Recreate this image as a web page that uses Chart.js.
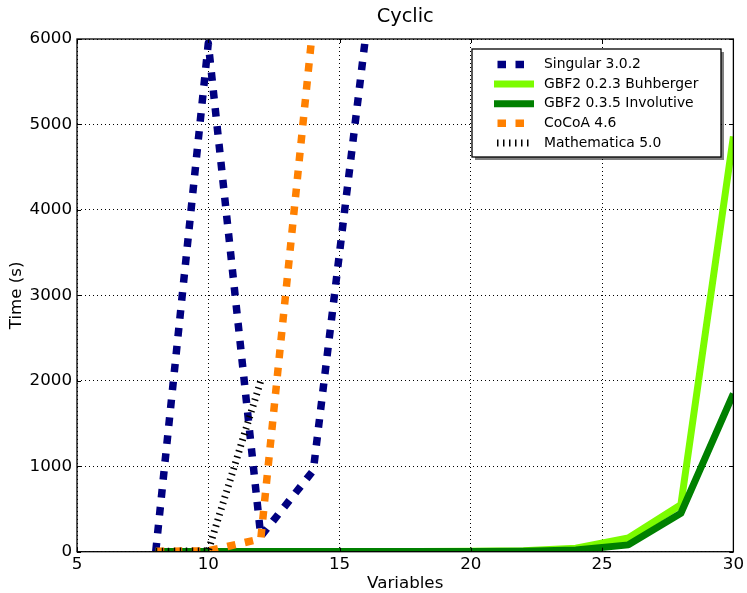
<!DOCTYPE html>
<html>
<head>
<meta charset="utf-8">
<script src="https://cdn.jsdelivr.net/npm/chart.js@4.4.1/dist/chart.umd.min.js"></script>
<style>
  body { margin: 0; background: #fff; }
  canvas { display: block; }
</style>
</head>
<body>
<canvas id="myChart" width="747" height="593"></canvas>
<script>
// datos (tiempo en segundos)
const variables = [8, 10, 12, 14, 16, 18, 20, 22, 24, 26, 28, 30];
const singular = [5, 5950, 180, 950, 6050];
const buhberger = [1, 1, 1, 2, 2, 3, 5, 10, 40, 160, 550, 4860];
const involutive = [1, 1, 1, 1, 2, 2, 3, 5, 20, 80, 450, 1850];
const cocoa = [5, 10, 150, 6200];
const mathematica = [5, 10, 2000];

const xTicks = [5, 10, 15, 20, 25, 30];
const yTicks = [0, 1000, 2000, 3000, 4000, 5000, 6000];

const fuente = "DejaVu Sans";

function puntos(valores) {
  return valores.map(function (v, i) { return { x: variables[i], y: v }; });
}

// marco negro con marcas hacia adentro
const marco = {
  id: "marco",
  afterDatasetsDraw(chart) {
    const ctx = chart.ctx;
    const a = chart.chartArea;
    ctx.save();
    ctx.strokeStyle = "#000";
    ctx.lineWidth = 1;
    ctx.beginPath();
    chart.scales.x.ticks.forEach(function (t) {
      const px = Math.round(chart.scales.x.getPixelForValue(t.value)) + 0.5;
      ctx.moveTo(px, a.bottom); ctx.lineTo(px, a.bottom - 4);
      ctx.moveTo(px, a.top); ctx.lineTo(px, a.top + 4);
    });
    chart.scales.y.ticks.forEach(function (t) {
      const py = Math.round(chart.scales.y.getPixelForValue(t.value)) + 0.5;
      ctx.moveTo(a.left, py); ctx.lineTo(a.left + 4, py);
      ctx.moveTo(a.right, py); ctx.lineTo(a.right - 4, py);
    });
    ctx.stroke();
    ctx.lineWidth = 1.3;
    ctx.strokeRect(a.left, a.top, a.right - a.left, a.bottom - a.top);
    ctx.restore();
  }
};

// leyenda dentro del area, con sombra
const leyenda = {
  id: "leyenda",
  afterDraw(chart) {
    const ctx = chart.ctx;
    const x0 = 472, y0 = 49, w = 249, h = 108;
    ctx.save();
    ctx.fillStyle = "rgba(0,0,0,0.5)";
    ctx.fillRect(x0 + 3, y0 + 3, w, h);
    ctx.fillStyle = "#fff";
    ctx.fillRect(x0, y0, w, h);
    ctx.strokeStyle = "#000";
    ctx.lineWidth = 1.3;
    ctx.strokeRect(x0, y0, w, h);
    chart.data.datasets.forEach(function (ds, i) {
      const y = 64.5 + i * 19.6;
      const dash = ds.borderDash || [];
      let xa = 494, xb = 534;
      if (dash.length && dash[0] > 3) { xa = 497.5; xb = 524.5; }
      if (dash.length && dash[0] <= 3) { xa = 497; xb = 529; }
      ctx.beginPath();
      ctx.setLineDash(dash);
      ctx.lineWidth = ds.borderWidth;
      ctx.strokeStyle = ds.borderColor;
      ctx.moveTo(xa, y);
      ctx.lineTo(xb, y);
      ctx.stroke();
      ctx.setLineDash([]);
      ctx.fillStyle = "#000";
      ctx.font = "13.9px '" + fuente + "'";
      ctx.textBaseline = "middle";
      ctx.fillText(ds.label, 544, y);
    });
    ctx.restore();
  }
};

new Chart("myChart", {
  type: "line",
  data: {
    datasets: [
      { label: "Singular 3.0.2", data: puntos(singular), borderColor: "#000080", borderWidth: 7.5, borderDash: [8.5, 9.5], order: 5 },
      { label: "GBF2 0.2.3 Buhberger", data: puntos(buhberger), borderColor: "#7cfc00", borderWidth: 7, order: 4 },
      { label: "GBF2 0.3.5 Involutive", data: puntos(involutive), borderColor: "#008000", borderWidth: 7, order: 3 },
      { label: "CoCoA 4.6", data: puntos(cocoa), borderColor: "#ff8000", borderWidth: 7.5, borderDash: [8.5, 9.5], order: 2 },
      { label: "Mathematica 5.0", data: puntos(mathematica), borderColor: "#000", borderWidth: 7, borderDash: [1.5, 4.5], order: 1 }
    ]
  },
  options: {
    responsive: false,
    animation: false,
    layout: { padding: { right: 12 } },
    datasets: {
      line: { pointRadius: 0, fill: false, tension: 0, clip: 0, borderJoinStyle: "round" }
    },
    scales: {
      x: {
        type: "linear",
        min: 5,
        max: 30,
        afterBuildTicks: function (s) { s.ticks = xTicks.map(function (v) { return { value: v }; }); },
        afterFit: function (s) { s.height = 41.3; },
        ticks: { color: "#000", padding: 3, font: { family: fuente, size: 16.7 }, callback: function (v) { return String(v); } },
        grid: { color: "#000", lineWidth: 1, drawTicks: false },
        border: { display: false, dash: [1, 3] },
        title: { display: true, text: "Variables", color: "#000", font: { family: fuente, size: 16.7, lineHeight: 1 }, padding: { top: 0, bottom: 1 } }
      },
      y: {
        min: 0,
        max: 6000,
        afterBuildTicks: function (s) { s.ticks = yTicks.map(function (v) { return { value: v }; }); },
        afterFit: function (s) { s.width = 77; },
        ticks: { color: "#000", padding: 5, font: { family: fuente, size: 16.7 }, callback: function (v) { return String(v); } },
        grid: { color: "#000", lineWidth: 1, drawTicks: false },
        border: { display: false, dash: [1, 3] },
        title: { display: true, text: "Time (s)", color: "#000", font: { family: fuente, size: 16.7, lineHeight: 1 }, padding: { top: 8.5, bottom: 0 } }
      }
    },
    plugins: {
      legend: { display: false },
      tooltip: { enabled: false },
      title: {
        display: true,
        text: "Cyclic",
        color: "#000",
        fullSize: false,
        font: { family: fuente, size: 19.4, weight: "normal", lineHeight: 1 },
        padding: { top: 6.8, bottom: 12.8 }
      }
    }
  },
  plugins: [marco, leyenda]
});
</script>
</body>
</html>
